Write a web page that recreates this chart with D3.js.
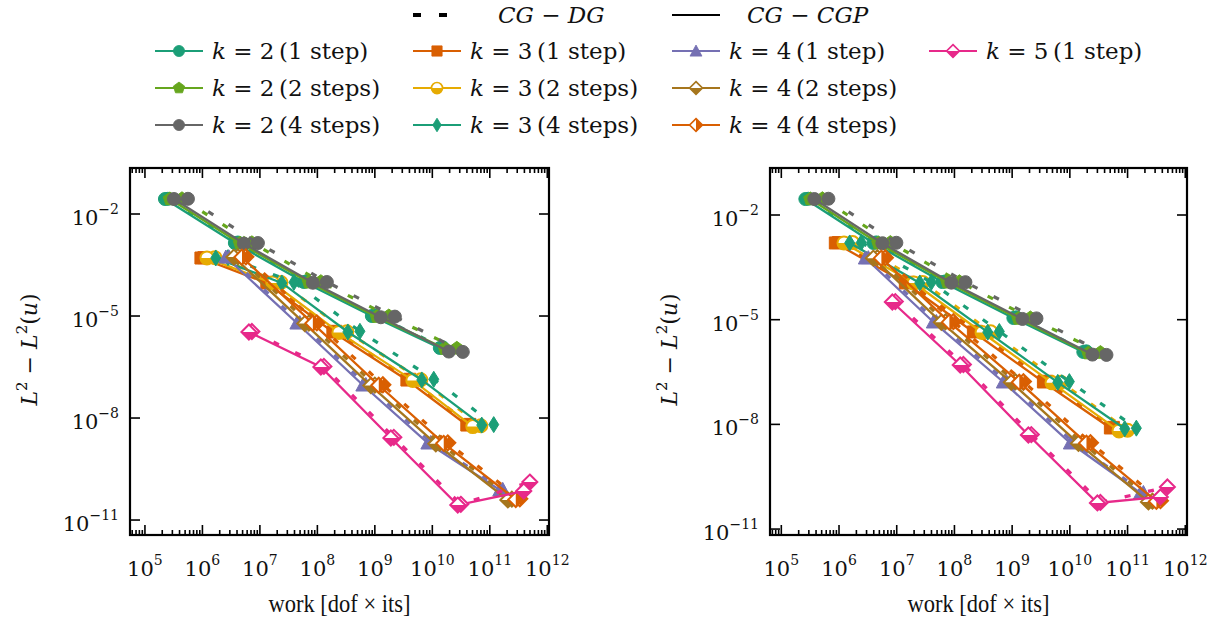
<!DOCTYPE html>
<html>
<head>
<meta charset="utf-8">
<script src="https://cdn.jsdelivr.net/npm/d3@7"></script>
<style>
  body { margin: 0; background: #fff; }
  svg { display: block; }
</style>
</head>
<body>
<div id="chart"></div>
<script>
// ---- data -------------------------------------------------------------
// series order: k=2 (1,2,4 steps), k=3 (1,2,4 steps), k=4 (1,2,4 steps), k=5 (1 step)
const seriesK = ["2", "2", "2", "3", "3", "3", "4", "4", "4", "5"];
const seriesSteps = ["1 step", "2 steps", "4 steps", "1 step", "2 steps", "4 steps",
                     "1 step", "2 steps", "4 steps", "1 step"];

const xTickExps = [5, 6, 7, 8, 9, 10, 11, 12];
const yTickExps = [-2, -5, -8, -11];

// left panel
const leftWorkCGP = [
  [2.23e5, 3.67e6, 5.82e7, 8.87e8, 1.35e10],
  [2.72e5, 4.49e6, 7.11e7, 1.08e9, 1.65e10],
  [3.20e5, 5.27e6, 8.36e7, 1.27e9, 1.94e10],
  [9.42e5, 1.32e7, 1.86e8, 3.61e9, 3.98e10],
  [1.20e6, 1.68e7, 2.37e8, 4.58e9, 5.06e10],
  [1.71e6, 2.41e7, 3.39e8, 6.56e9, 7.24e10],
  [2.56e6, 4.40e7, 6.18e8, 8.36e9, 1.49e11],
  [3.53e6, 6.05e7, 8.51e8, 1.15e10, 2.06e11],
  [4.86e6, 8.34e7, 1.17e9, 1.58e10, 2.83e11],
  [6.44e6, 1.15e8, 1.90e9, 2.77e10, 3.90e11]
];
const leftWorkDG = [
  [2.51e5, 4.14e6, 6.56e7, 1.00e9, 1.52e10],
  [4.41e5, 7.26e6, 1.15e8, 1.75e9, 2.67e10],
  [5.60e5, 9.23e6, 1.46e8, 2.23e9, 3.39e10],
  [1.06e6, 1.49e7, 2.10e8, 4.06e9, 4.49e10],
  [1.65e6, 2.32e7, 3.26e8, 6.31e9, 6.97e10],
  [2.78e6, 3.91e7, 5.50e8, 1.06e10, 1.17e11],
  [2.89e6, 4.95e7, 6.97e8, 9.42e9, 1.68e11],
  [4.15e6, 7.11e7, 1.00e9, 1.35e10, 2.42e11],
  [5.71e6, 9.79e7, 1.38e9, 1.86e10, 3.33e11],
  [7.26e6, 1.30e8, 2.14e9, 3.13e10, 4.97e11]
];
const leftErrCGP = [
  [2.76e-2, 1.40e-3, 1.00e-4, 1.00e-5, 1.15e-6],
  [2.76e-2, 1.38e-3, 9.8e-5, 9.6e-6, 1.10e-6],
  [2.76e-2, 1.35e-3, 9.5e-5, 9.2e-6, 9.0e-7],
  [5.08e-4, 9.35e-5, 3.38e-6, 1.31e-7, 6.22e-9],
  [5.10e-4, 9.3e-5, 3.30e-6, 1.28e-7, 5.6e-9],
  [5.10e-4, 9.4e-5, 3.40e-6, 1.32e-7, 6.2e-9],
  [5.43e-4, 6.22e-6, 9.35e-8, 1.84e-9, 7.62e-11],
  [5.40e-4, 6.00e-6, 9.0e-8, 1.75e-9, 3.9e-11],
  [5.40e-4, 6.10e-6, 9.2e-8, 1.80e-9, 4.0e-11],
  [3.38e-6, 3.16e-7, 2.58e-9, 2.76e-11, 7.13e-11]
];
const leftErrDG = [
  [2.80e-2, 1.45e-3, 1.05e-4, 1.05e-5, 1.20e-6],
  [2.80e-2, 1.42e-3, 1.02e-4, 1.00e-5, 1.12e-6],
  [2.80e-2, 1.40e-3, 1.00e-4, 9.6e-6, 8.8e-7],
  [5.20e-4, 9.8e-5, 3.55e-6, 1.38e-7, 6.5e-9],
  [5.20e-4, 9.7e-5, 3.45e-6, 1.34e-7, 5.9e-9],
  [5.20e-4, 9.8e-5, 3.55e-6, 1.38e-7, 6.4e-9],
  [5.50e-4, 6.4e-6, 9.7e-8, 1.92e-9, 8.0e-11],
  [5.50e-4, 6.2e-6, 9.3e-8, 1.82e-9, 4.1e-11],
  [5.50e-4, 6.3e-6, 9.5e-8, 1.86e-9, 4.2e-11],
  [3.50e-6, 3.30e-7, 2.70e-9, 2.90e-11, 1.31e-10]
];

// right panel
const rightWorkCGP = [
  [2.61e5, 3.93e6, 6.17e7, 1.05e9, 1.71e10],
  [3.18e5, 4.80e6, 7.53e7, 1.28e9, 2.09e10],
  [3.74e5, 5.64e6, 8.85e7, 1.51e9, 2.46e10],
  [8.63e5, 1.41e7, 2.13e8, 3.48e9, 5.04e10],
  [1.22e6, 1.99e7, 3.01e8, 4.91e9, 7.11e10],
  [1.53e6, 2.51e7, 3.78e8, 6.18e9, 8.95e10],
  [2.86e6, 4.31e7, 7.03e8, 1.02e10, 1.67e11],
  [3.94e6, 5.93e7, 9.68e8, 1.41e10, 2.30e11],
  [5.42e6, 8.17e7, 1.33e9, 1.94e10, 3.16e11],
  [8.39e6, 1.26e8, 1.91e9, 3.00e10, 3.70e11]
];
const rightWorkDG = [
  [2.94e5, 4.43e6, 6.95e7, 1.18e9, 1.93e10],
  [5.15e5, 7.76e6, 1.22e8, 2.07e9, 3.39e10],
  [6.55e5, 9.86e6, 1.55e8, 2.64e9, 4.31e10],
  [9.72e5, 1.59e7, 2.40e8, 3.92e9, 5.68e10],
  [1.72e6, 2.81e7, 4.25e8, 6.93e9, 1.00e11],
  [2.43e6, 3.97e7, 6.00e8, 9.80e9, 1.42e11],
  [3.22e6, 4.85e7, 7.93e8, 1.15e10, 1.88e11],
  [4.62e6, 6.97e7, 1.14e9, 1.65e10, 2.70e11],
  [6.37e6, 9.59e7, 1.57e9, 2.28e10, 3.72e11],
  [9.46e6, 1.43e8, 2.15e9, 3.38e10, 4.90e11]
];
const rightErrCGP = [
  [2.87e-2, 1.58e-3, 1.20e-4, 1.12e-5, 1.19e-6],
  [2.87e-2, 1.56e-3, 1.18e-4, 1.08e-5, 1.10e-6],
  [2.87e-2, 1.55e-3, 1.15e-4, 1.05e-5, 1.00e-6],
  [1.58e-3, 1.13e-4, 4.45e-6, 1.64e-7, 7.89e-9],
  [1.58e-3, 1.12e-4, 4.30e-6, 1.55e-7, 6.5e-9],
  [1.58e-3, 1.13e-4, 4.40e-6, 1.60e-7, 7.5e-9],
  [5.86e-4, 8.59e-6, 1.64e-7, 2.93e-9, 1.08e-10],
  [5.80e-4, 8.40e-6, 1.60e-7, 2.85e-9, 6.0e-11],
  [5.80e-4, 8.50e-6, 1.62e-7, 2.90e-9, 6.2e-11],
  [3.21e-5, 5.04e-7, 4.97e-9, 5.6e-11, 8.32e-11]
];
const rightErrDG = [
  [2.92e-2, 1.64e-3, 1.25e-4, 1.17e-5, 1.24e-6],
  [2.92e-2, 1.62e-3, 1.22e-4, 1.12e-5, 1.14e-6],
  [2.92e-2, 1.60e-3, 1.19e-4, 1.09e-5, 9.8e-7],
  [1.62e-3, 1.18e-4, 4.65e-6, 1.72e-7, 8.2e-9],
  [1.62e-3, 1.17e-4, 4.50e-6, 1.62e-7, 6.8e-9],
  [1.62e-3, 1.18e-4, 4.60e-6, 1.68e-7, 7.8e-9],
  [6.00e-4, 8.9e-6, 1.70e-7, 3.05e-9, 1.12e-10],
  [6.00e-4, 8.7e-6, 1.66e-7, 2.96e-9, 6.3e-11],
  [6.00e-4, 8.8e-6, 1.68e-7, 3.00e-9, 6.5e-11],
  [3.30e-5, 5.20e-7, 5.10e-9, 5.8e-11, 1.61e-10]
];

// ---- styles -----------------------------------------------------------
const seriesStyle = [
  { color: "#1b9e77", shape: "circle",   fill: "full" },
  { color: "#66a61e", shape: "pentagon", fill: "full" },
  { color: "#666666", shape: "circle",   fill: "full" },
  { color: "#d95f02", shape: "square",   fill: "full" },
  { color: "#e6ab02", shape: "circle",   fill: "bottom" },
  { color: "#1b9e77", shape: "thin",     fill: "full" },
  { color: "#7570b3", shape: "triangle", fill: "full" },
  { color: "#a6761d", shape: "diamond",  fill: "bottom" },
  { color: "#d95f02", shape: "diamond",  fill: "right" },
  { color: "#e7298a", shape: "diamond",  fill: "bottom" }
];

const FONT = "'DejaVu Serif', serif";
const W = 1222, H = 626;

const svg = d3.select("#chart").append("svg")
  .attr("width", W).attr("height", H)
  .attr("viewBox", `0 0 ${W} ${H}`)
  .style("font-family", FONT);

const defs = svg.append("defs");
defs.append("clipPath").attr("id", "halfBottom")
  .append("rect").attr("x", -20).attr("y", 0).attr("width", 40).attr("height", 20);
defs.append("clipPath").attr("id", "halfRight")
  .append("rect").attr("x", 0).attr("y", -20).attr("width", 20).attr("height", 40);

function shapePath(shape) {
  if (shape === "circle") return "M6.5,0A6.5,6.5,0,1,1,-6.5,0A6.5,6.5,0,1,1,6.5,0Z";
  if (shape === "square") return "M-6,-6H6V6H-6Z";
  if (shape === "triangle") return "M0,-7L7,6L-7,6Z";
  if (shape === "diamond") return "M0,-7.5L7.5,0L0,7.5L-7.5,0Z";
  if (shape === "thin") return "M0,-8L5,0L0,8L-5,0Z";
  // pentagon
  const pts = d3.range(5).map(i => {
    const a = -Math.PI / 2 + i * 2 * Math.PI / 5;
    return [7 * Math.cos(a), 7 * Math.sin(a)];
  });
  return "M" + pts.map(p => p.join(",")).join("L") + "Z";
}

function drawMarker(g, x, y, st, scale) {
  const m = g.append("g").attr("transform", `translate(${x},${y}) scale(${scale || 1})`);
  const p = shapePath(st.shape);
  if (st.fill === "full") {
    m.append("path").attr("d", p).attr("fill", st.color)
      .attr("stroke", st.color).attr("stroke-width", 1);
    return;
  }
  m.append("path").attr("d", p).attr("fill", "#fff");
  m.append("path").attr("d", p).attr("fill", st.color)
    .attr("clip-path", st.fill === "right" ? "url(#halfRight)" : "url(#halfBottom)");
  m.append("path").attr("d", p).attr("fill", "none")
    .attr("stroke", st.color).attr("stroke-width", 2);
}

function powerLabel(sel, exp) {
  sel.append("tspan").text("10");
  sel.append("tspan").attr("dy", -11).attr("font-size", 14)
    .text(exp < 0 ? "\u2212" + Math.abs(exp) : String(exp));
}

// ---- panels -----------------------------------------------------------
const panels = [
  { left: 130, right: 549, top: 168, bottom: 535,
    xDom: [Math.pow(10, 4.74), Math.pow(10, 12.03)],
    yDom: [Math.pow(10, -11.44), Math.pow(10, -0.647)],
    workCGP: leftWorkCGP, workDG: leftWorkDG, errCGP: leftErrCGP, errDG: leftErrDG },
  { left: 770, right: 1187, top: 168, bottom: 535,
    xDom: [Math.pow(10, 4.804), Math.pow(10, 12.03)],
    yDom: [Math.pow(10, -11.17), Math.pow(10, -0.653)],
    workCGP: rightWorkCGP, workDG: rightWorkDG, errCGP: rightErrCGP, errDG: rightErrDG }
];

panels.forEach(p => {
  const x = d3.scaleLog().domain(p.xDom).range([p.left, p.right]);
  const y = d3.scaleLog().domain(p.yDom).range([p.bottom, p.top]);
  const g = svg.append("g");

  const line = d3.line().x(d => x(d[0])).y(d => y(d[1]));

  const plot = g.append("g");
  seriesStyle.forEach((st, i) => {
    const cgp = p.workCGP[i].map((w, j) => [w, p.errCGP[i][j]]);
    const dg = p.workDG[i].map((w, j) => [w, p.errDG[i][j]]);
    plot.append("path").datum(dg).attr("d", line)
      .attr("fill", "none").attr("stroke", st.color)
      .attr("stroke-width", 3.2).attr("stroke-dasharray", "6,18");
    plot.append("path").datum(cgp).attr("d", line)
      .attr("fill", "none").attr("stroke", st.color).attr("stroke-width", 2.3);
    dg.forEach(d => drawMarker(plot, x(d[0]), y(d[1]), st));
    cgp.forEach(d => drawMarker(plot, x(d[0]), y(d[1]), st));
  });

  // ticks (inward, x on both sides, y on both sides)
  const ticks = g.append("g").attr("stroke", "#000").attr("stroke-width", 1.6);
  const majorX = xTickExps.map(e => Math.pow(10, e));
  const minorX = [];
  for (let e = 4; e <= 11; e++) {
    for (let m = 2; m <= 9; m++) {
      const v = m * Math.pow(10, e);
      if (v > p.xDom[0] && v < p.xDom[1]) minorX.push(v);
    }
  }
  majorX.forEach(v => {
    ticks.append("line").attr("x1", x(v)).attr("x2", x(v)).attr("y1", p.bottom).attr("y2", p.bottom - 10);
    ticks.append("line").attr("x1", x(v)).attr("x2", x(v)).attr("y1", p.top).attr("y2", p.top + 10);
  });
  minorX.forEach(v => {
    ticks.append("line").attr("x1", x(v)).attr("x2", x(v)).attr("y1", p.bottom).attr("y2", p.bottom - 5);
    ticks.append("line").attr("x1", x(v)).attr("x2", x(v)).attr("y1", p.top).attr("y2", p.top + 5);
  });
  yTickExps.forEach(e => {
    const yy = y(Math.pow(10, e));
    ticks.append("line").attr("x1", p.left).attr("x2", p.left + 10).attr("y1", yy).attr("y2", yy);
    ticks.append("line").attr("x1", p.right).attr("x2", p.right - 10).attr("y1", yy).attr("y2", yy);
  });

  g.append("rect").attr("x", p.left).attr("y", p.top)
    .attr("width", p.right - p.left).attr("height", p.bottom - p.top)
    .attr("fill", "none").attr("stroke", "#000").attr("stroke-width", 2.2);

  // tick labels
  xTickExps.forEach(e => {
    const t = g.append("text").attr("x", x(Math.pow(10, e))).attr("y", 576)
      .attr("text-anchor", "middle").attr("font-size", 21).attr("fill", "#111");
    powerLabel(t, e);
  });
  yTickExps.forEach(e => {
    const t = g.append("text").attr("x", p.left - 11).attr("y", y(Math.pow(10, e)) + 11)
      .attr("text-anchor", "end").attr("font-size", 21).attr("fill", "#111");
    powerLabel(t, e);
  });

  // axis labels
  g.append("text").attr("x", (p.left + p.right) / 2).attr("y", 612)
    .attr("text-anchor", "middle").attr("font-size", 26)
    .attr("font-family", "'Liberation Serif', serif").attr("fill", "#111")
    .attr("textLength", 142).attr("lengthAdjust", "spacingAndGlyphs")
    .text("work [dof \u00d7 its]");

  const cy = (p.top + p.bottom) / 2;
  const yl = g.append("text").attr("transform", `translate(${p.left - 93},${cy - 2}) rotate(-90)`)
    .attr("text-anchor", "middle").attr("font-size", 22).attr("fill", "#111");
  yl.append("tspan").attr("font-style", "italic").text("L");
  yl.append("tspan").attr("dy", -10).attr("font-size", 15).text("2");
  yl.append("tspan").attr("dy", 10).text(" \u2212 ");
  yl.append("tspan").attr("font-style", "italic").text("L");
  yl.append("tspan").attr("dy", -10).attr("font-size", 15).text("2");
  yl.append("tspan").attr("dy", 10).text("(");
  yl.append("tspan").attr("font-style", "italic").text("u");
  yl.append("tspan").text(")");
});

// ---- legend -----------------------------------------------------------
const legend = svg.append("g").attr("font-size", 23).attr("fill", "#111");
const colX = { "2": 155, "3": 413, "4": 672, "5": 929 };
const rowY = [51, 88, 125];
const stepRow = { "1 step": 0, "2 steps": 1, "4 steps": 2 };

legend.append("line").attr("x1", 413).attr("x2", 447).attr("y1", 15).attr("y2", 15)
  .attr("stroke", "#000").attr("stroke-width", 4).attr("stroke-dasharray", "8,18");
legend.append("text").attr("x", 498).attr("y", 23).attr("font-style", "italic")
  .text("CG \u2212 DG");
legend.append("line").attr("x1", 672).attr("x2", 720).attr("y1", 15).attr("y2", 15)
  .attr("stroke", "#000").attr("stroke-width", 2);
legend.append("text").attr("x", 747).attr("y", 23).attr("font-style", "italic")
  .text("CG \u2212 CGP");

seriesStyle.forEach((st, i) => {
  const x0 = colX[seriesK[i]];
  const yy = rowY[stepRow[seriesSteps[i]]];
  legend.append("line").attr("x1", x0).attr("x2", x0 + 48).attr("y1", yy).attr("y2", yy)
    .attr("stroke", st.color).attr("stroke-width", 2.2);
  drawMarker(legend, x0 + 24, yy, st, 0.85);
  const t = legend.append("text").attr("x", x0 + 57).attr("y", yy + 8);
  t.append("tspan").attr("font-style", "italic").text("k");
  t.append("tspan").text(" = " + seriesK[i] + "\u2009(" + seriesSteps[i] + ")");
});
</script>
</body>
</html>
